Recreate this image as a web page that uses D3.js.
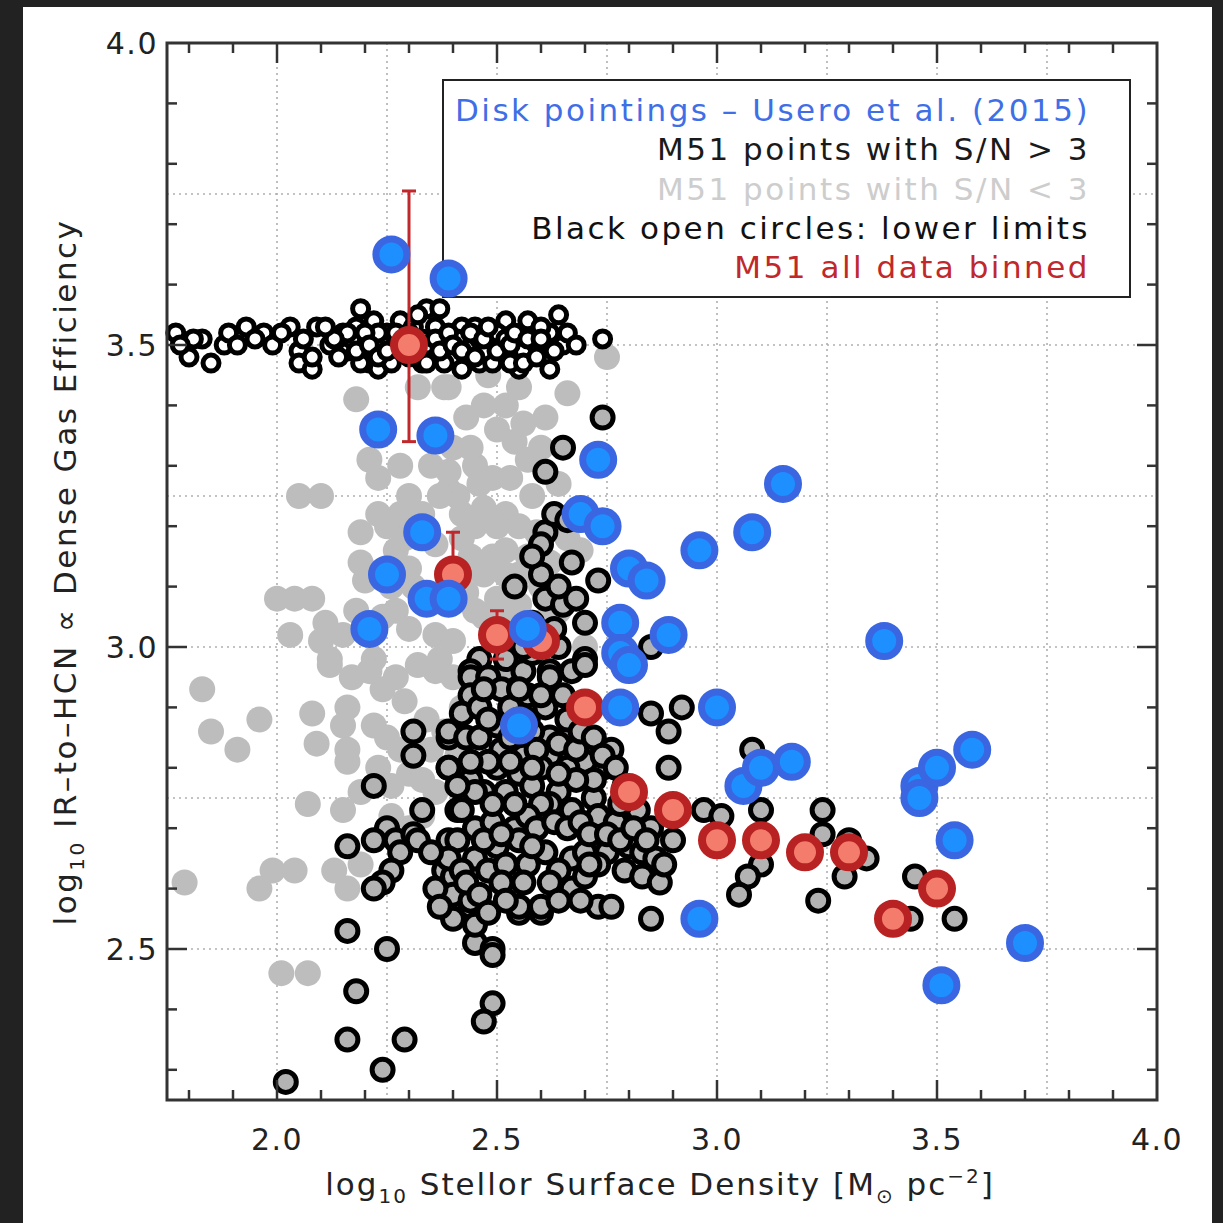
<!DOCTYPE html>
<html>
<head>
<meta charset="utf-8">
<script src="https://cdn.jsdelivr.net/npm/d3@7"></script>
<style>
  html, body { margin: 0; padding: 0; background: #222; }
  svg { display: block; }
</style>
</head>
<body>
<svg id="chart"></svg>
<script>
// log10 stellar surface density vs log10 IR/HCN

// disk pointings (Usero et al. 2015) - blue
const diskPts = [
  [2.26,3.65],[2.39,3.61],[2.23,3.36],[2.36,3.35],[2.73,3.31],[3.15,3.27],[2.69,3.22],[2.74,3.20],
  [2.33,3.19],[3.08,3.19],[2.96,3.16],[2.25,3.12],[2.80,3.13],[2.84,3.11],[2.34,3.08],[2.39,3.08],
  [2.21,3.03],[2.57,3.03],[2.78,3.04],[2.89,3.02],[3.38,3.01],[2.78,2.99],[2.80,2.97],[2.78,2.90],
  [3.00,2.90],[2.55,2.87],[3.06,2.77],[3.10,2.80],[3.17,2.81],[3.46,2.77],[3.46,2.75],[3.50,2.80],
  [3.58,2.83],[3.54,2.68],[2.96,2.55],[3.70,2.51],[3.51,2.44]
];

// binned M51 data - red
const binX = [2.3, 2.4, 2.5, 2.6, 2.7, 2.8, 2.9, 3.0, 3.1, 3.2, 3.3, 3.4, 3.5];
const binY = [3.50, 3.12, 3.02, 3.01, 2.90, 2.76, 2.73, 2.68, 2.68, 2.66, 2.66, 2.55, 2.60];
const binLo = [3.34, 3.06, 2.98, 2.99, 2.89, 2.75, 2.72, 2.67, 2.67, 2.65, 2.65, 2.54, 2.59];
const binHi = [3.755, 3.19, 3.06, 3.03, 2.91, 2.77, 2.74, 2.69, 2.69, 2.67, 2.67, 2.56, 2.61];

// lower limits - black open circles
const limitPts = [
  [1.77,3.52],[1.80,3.48],[1.83,3.51],[1.85,3.47],[1.88,3.50],[1.89,3.52],[1.93,3.53],[1.97,3.52],
  [1.99,3.50],[2.03,3.53],[2.05,3.49],[2.05,3.47],[2.08,3.46],[2.09,3.53],[2.12,3.50],[2.15,3.52],
  [2.16,3.49],[2.19,3.56],[2.20,3.50],[2.21,3.47],[2.23,3.46],[2.25,3.52],[2.34,3.56],[2.37,3.56],
  [2.36,3.53],[2.39,3.50],[2.42,3.53],[2.44,3.50],[2.46,3.47],[2.49,3.51],[2.52,3.54],[2.55,3.46],
  [2.58,3.52],[2.61,3.48],[2.62,3.52],[2.64,3.55],[2.65,3.50],[2.74,3.51],[2.27,3.49],[2.28,3.54],
  [2.22,3.54],[2.14,3.48],[2.08,3.48],[2.49,3.47],[2.45,3.53],[2.40,3.48],[2.33,3.47],[2.18,3.53],
  [2.55,3.50],[2.57,3.54],[2.51,3.49],[2.46,3.51],[2.17,3.51],[2.22,3.49],[2.24,3.50],[2.26,3.47],
  [2.28,3.51],[2.30,3.48],[2.31,3.53],[2.33,3.51],[2.35,3.49],[2.38,3.47],[2.41,3.51],[2.43,3.48],
  [2.47,3.49],[2.50,3.52],[2.53,3.47],[2.56,3.49],[2.59,3.50],[2.19,3.47],[2.23,3.52],[2.32,3.55],
  [2.42,3.46],[2.60,3.53],[2.16,3.52],[2.18,3.49],[2.20,3.52],[2.21,3.50],[2.23,3.48],[2.25,3.49],
  [2.27,3.52],[2.29,3.50],[2.30,3.52],[2.32,3.49],[2.34,3.50],[2.34,3.47],[2.36,3.51],[2.37,3.49],
  [2.39,3.52],[2.40,3.50],[2.42,3.49],[2.44,3.52],[2.45,3.48],[2.47,3.51],[2.48,3.53],[2.50,3.49],
  [2.52,3.51],[2.53,3.50],[2.54,3.52],[2.56,3.47],[2.57,3.51],[2.59,3.48],[2.60,3.51],[2.63,3.49],
  [2.62,3.46],[2.13,3.51],[2.11,3.53],[2.06,3.51],[2.01,3.52],[1.95,3.51],[1.91,3.50],[1.81,3.51],
  [1.78,3.50],[2.66,3.52],[2.68,3.50]
];

// S/N < 3 - grey
const lowSnPts = [
  [2.18,3.41],[2.21,3.31],[2.23,3.28],[2.28,3.30],[2.35,3.30],[2.39,3.26],[2.05,3.25],[2.10,3.25],
  [2.23,3.22],[2.19,3.19],[2.19,3.14],[2.27,3.16],[2.20,3.11],[2.00,3.08],[2.04,3.08],[2.08,3.08],
  [2.11,3.04],[2.03,3.02],[2.10,3.01],[2.12,2.98],[2.22,2.98],[2.27,3.06],[2.36,3.02],[2.37,2.98],
  [2.32,3.43],[2.38,3.43],[2.39,3.29],[2.40,3.33],[1.83,2.93],[1.85,2.86],[1.91,2.83],[1.96,2.88],
  [2.08,2.89],[2.09,2.84],[2.16,2.90],[2.15,2.87],[2.16,2.83],[2.16,2.81],[2.22,2.87],[2.23,2.80],
  [2.24,2.93],[2.29,2.91],[2.34,2.88],[2.30,2.79],[2.36,2.96],[2.12,2.97],[2.21,2.96],[2.07,2.74],
  [2.15,2.73],[1.79,2.61],[1.96,2.60],[1.99,2.63],[2.04,2.63],[2.13,2.63],[2.16,2.60],[2.19,2.64],
  [2.01,2.46],[2.07,2.46],[2.39,3.43],[2.55,3.43],[2.66,3.42],[2.61,3.38],[2.54,3.34],[2.57,3.31],
  [2.49,3.28],[2.45,3.30],[2.41,3.25],[2.52,3.22],[2.58,3.25],[2.64,3.27],[2.45,3.20],[2.52,3.16],
  [2.59,3.19],[2.66,3.18],[2.69,3.16],[2.47,3.12],[2.50,3.08],[2.45,3.06],[2.40,3.01],[2.64,3.06],
  [2.70,3.00],[2.75,3.48],[2.43,3.38],[2.47,3.40],[2.50,3.36],[2.44,3.33],[2.47,3.23],[2.50,3.20],
  [2.42,3.22],[2.36,3.17],[2.30,3.13],[2.44,3.15],[2.55,3.12],[2.60,3.10],[2.62,3.14],[2.33,3.08],
  [2.30,3.03],[2.42,3.12],[2.40,2.95],[2.42,2.90],[2.38,2.86],[2.41,2.82],[2.36,2.76],[2.33,2.72],
  [2.30,2.70],[2.26,2.72],[2.48,3.45],[2.52,3.40],[2.56,3.37],[2.60,3.33],[2.53,3.28],[2.46,3.27],
  [2.42,3.18],[2.49,3.15],[2.55,3.20],[2.57,3.15],[2.52,3.12],[2.47,3.05],[2.43,3.09],[2.55,3.07],
  [2.60,3.04],[2.49,3.02],[2.52,3.05],[2.37,3.25],[2.33,3.22],[2.30,3.25],[2.28,3.22],[2.25,3.20],
  [2.29,3.18],[2.26,3.10],[2.31,3.10],[2.24,3.05],[2.18,3.06],[2.15,3.02],[2.17,2.95],[2.25,2.85],
  [2.27,2.95],[2.32,2.97],[2.19,2.76],[2.26,2.77],[2.28,2.83],[2.35,2.83],[2.33,2.78]
];

// S/N > 3 - black ring
const detPts = [
  [2.74,3.38],[2.65,3.33],[2.61,3.29],[2.61,3.19],[2.60,3.17],[2.67,3.14],[2.73,3.11],[2.54,3.10],
  [2.60,3.12],[2.61,3.08],[2.65,3.07],[2.68,3.08],[2.70,3.04],[2.85,3.00],[2.46,2.98],[2.44,2.96],
  [2.52,2.96],[2.62,2.96],[2.70,2.98],[2.22,2.77],[2.31,2.86],[2.31,2.82],[2.39,2.85],[2.39,2.80],
  [2.33,2.73],[2.41,2.73],[2.25,2.70],[2.22,2.68],[2.16,2.67],[2.27,2.68],[2.28,2.66],[2.31,2.69],
  [2.32,2.68],[2.39,2.68],[2.38,2.63],[2.40,2.62],[2.26,2.63],[2.24,2.61],[2.22,2.60],[2.40,2.55],
  [2.16,2.53],[2.25,2.50],[2.18,2.43],[2.16,2.35],[2.29,2.35],[2.24,2.30],[2.02,2.28],[2.44,2.57],
  [2.45,2.51],[2.49,2.50],[2.49,2.49],[2.49,2.41],[2.47,2.38],[2.55,2.56],[2.60,2.56],[2.44,2.95],
  [2.48,2.95],[2.51,2.93],[2.56,2.96],[2.57,2.92],[2.62,2.95],[2.67,2.96],[2.70,2.97],[2.44,2.92],
  [2.42,2.89],[2.46,2.90],[2.50,2.87],[2.39,2.86],[2.43,2.85],[2.46,2.85],[2.39,2.80],[2.51,2.83],
  [2.56,2.82],[2.62,2.85],[2.61,2.90],[2.67,2.86],[2.62,2.82],[2.71,2.83],[2.76,2.83],[2.74,2.80],
  [2.70,2.81],[2.66,2.80],[2.60,2.80],[2.55,2.79],[2.50,2.80],[2.47,2.76],[2.52,2.76],[2.58,2.77],
  [2.64,2.76],[2.62,2.74],[2.67,2.73],[2.72,2.75],[2.73,2.72],[2.77,2.71],[2.82,2.73],[2.85,2.70],
  [2.89,2.80],[2.92,2.90],[2.85,2.89],[2.89,2.86],[2.97,2.73],[3.01,2.72],[2.42,2.73],[2.41,2.68],
  [2.45,2.70],[2.49,2.71],[2.54,2.70],[2.55,2.68],[2.50,2.67],[2.39,2.65],[2.45,2.65],[2.48,2.63],
  [2.52,2.64],[2.57,2.64],[2.56,2.61],[2.51,2.61],[2.42,2.63],[2.40,2.59],[2.44,2.58],[2.45,2.54],
  [2.55,2.57],[2.60,2.57],[2.67,2.65],[2.67,2.60],[2.70,2.66],[2.75,2.66],[2.80,2.67],[2.83,2.66],
  [2.86,2.65],[2.79,2.63],[2.83,2.62],[2.87,2.61],[2.73,2.57],[2.76,2.57],[2.85,2.55],[3.08,2.83],
  [3.10,2.73],[3.10,2.64],[3.07,2.62],[3.05,2.59],[3.24,2.73],[3.24,2.69],[3.30,2.68],[3.34,2.65],
  [3.29,2.62],[3.23,2.58],[3.45,2.62],[3.44,2.55],[3.54,2.55],[2.47,2.93],[2.53,2.90],[2.55,2.88],
  [2.58,2.86],[2.59,2.83],[2.64,2.84],[2.68,2.83],[2.66,2.88],[2.69,2.86],[2.72,2.85],[2.74,2.82],
  [2.77,2.80],[2.79,2.77],[2.72,2.78],[2.68,2.78],[2.64,2.79],[2.60,2.74],[2.57,2.72],[2.59,2.70],
  [2.63,2.71],[2.66,2.70],[2.69,2.71],[2.71,2.69],[2.75,2.69],[2.78,2.68],[2.73,2.64],[2.70,2.62],
  [2.64,2.63],[2.61,2.66],[2.58,2.67],[2.54,2.74],[2.49,2.74],[2.44,2.78],[2.48,2.81],[2.53,2.85],
  [2.57,2.88],[2.48,2.88],[2.52,2.98],[2.58,2.99],[2.64,3.00],[2.55,2.93],[2.60,2.92],[2.65,2.92],
  [2.78,2.74],[2.81,2.70],[2.84,2.68],[2.88,2.64],[2.90,2.68],[2.62,2.61],[2.64,2.58],[2.69,2.58],
  [2.71,2.64],[2.35,2.66],[2.36,2.60],[2.37,2.57],[2.43,2.61],[2.46,2.59],[2.48,2.56],[2.52,2.58],
  [2.47,2.68],[2.51,2.69],[2.45,2.76],[2.41,2.77],[2.44,2.81],[2.53,2.81],[2.58,2.80],[2.63,3.03],
  [2.58,3.04],[2.56,3.00],[2.64,3.10],[2.58,3.15],[2.63,3.22],[2.66,3.21]
];

const legendLines = [
  { text: "Disk pointings \u2013 Usero et al. (2015)", color: "#3f6fe6" },
  { text: "M51 points with S/N > 3", color: "#1a1a1a" },
  { text: "M51 points with S/N < 3", color: "#cdcdcd" },
  { text: "Black open circles: lower limits", color: "#111111" },
  { text: "M51 all data binned", color: "#c0282c" }
];

const xTicks = [2.0, 2.5, 3.0, 3.5, 4.0];
const yTicks = [2.5, 3.0, 3.5, 4.0];

const width = 1223, height = 1223;
const svg = d3.select("#chart").attr("width", width).attr("height", height);

// dark frame + white page
svg.append("rect").attr("width", width).attr("height", height).attr("fill", "#222");
svg.append("rect").attr("x", 23).attr("y", 7).attr("width", 1189).attr("height", 1216).attr("fill", "#fff");

const pl = 167, pr = 1157, pt = 43, pb = 1100;
const x = d3.scaleLinear().domain([1.75, 4.0]).range([pl, pr]);
const y = d3.scaleLinear().domain([2.25, 4.0]).range([pb, pt]);

const font = "DejaVu Sans, sans-serif";

// dotted grid
const gridX = d3.range(2.0, 3.76, 0.25);
const gridY = d3.range(2.5, 3.76, 0.25);
const grid = svg.append("g").attr("stroke", "#b0b0b0").attr("stroke-width", 1.6).attr("stroke-dasharray", "2,4");
grid.selectAll(".gx").data(gridX).enter().append("line")
  .attr("x1", d => x(d)).attr("x2", d => x(d)).attr("y1", pt).attr("y2", pb);
grid.selectAll(".gy").data(gridY).enter().append("line")
  .attr("y1", d => y(d)).attr("y2", d => y(d)).attr("x1", pl).attr("x2", pr);

// legend box (sits under the points)
svg.append("rect").attr("x", 443).attr("y", 80).attr("width", 687).attr("height", 217)
  .attr("fill", "#fff").attr("stroke", "#222").attr("stroke-width", 2);
svg.append("g").selectAll("text").data(legendLines).enter().append("text")
  .attr("x", 1090).attr("y", (d, i) => 121 + i * 39.3)
  .attr("text-anchor", "end")
  .style("font-family", font).style("font-size", "31px").style("letter-spacing", "2.5px")
  .attr("fill", d => d.color)
  .text(d => d.text);

// points
svg.append("g").selectAll("circle").data(lowSnPts).enter().append("circle")
  .attr("cx", d => x(d[0])).attr("cy", d => y(d[1])).attr("r", 13).attr("fill", "#bdbdbd");

svg.append("g").selectAll("circle").data(limitPts).enter().append("circle")
  .attr("cx", d => x(d[0])).attr("cy", d => y(d[1])).attr("r", 8)
  .attr("fill", "#fff").attr("stroke", "#000").attr("stroke-width", 5);

svg.append("g").selectAll("circle").data(detPts).enter().append("circle")
  .attr("cx", d => x(d[0])).attr("cy", d => y(d[1])).attr("r", 10.5)
  .attr("fill", "#b3b3b3").attr("stroke", "#000").attr("stroke-width", 5);

// binned points with error bars
const bins = binX.map((v, i) => ({ x: v, y: binY[i], lo: binLo[i], hi: binHi[i] }));
const eb = svg.append("g").attr("stroke", "#c0282c").attr("stroke-width", 3);
eb.selectAll(".v").data(bins).enter().append("line")
  .attr("x1", d => x(d.x)).attr("x2", d => x(d.x)).attr("y1", d => y(d.lo)).attr("y2", d => y(d.hi));
eb.selectAll(".ch").data(bins).enter().append("line")
  .attr("x1", d => x(d.x) - 7).attr("x2", d => x(d.x) + 7).attr("y1", d => y(d.hi)).attr("y2", d => y(d.hi));
eb.selectAll(".cl").data(bins).enter().append("line")
  .attr("x1", d => x(d.x) - 7).attr("x2", d => x(d.x) + 7).attr("y1", d => y(d.lo)).attr("y2", d => y(d.lo));
svg.append("g").selectAll("circle").data(bins).enter().append("circle")
  .attr("cx", d => x(d.x)).attr("cy", d => y(d.y)).attr("r", 15)
  .attr("fill", "#f47c6c").attr("stroke", "#b82222").attr("stroke-width", 8);

svg.append("g").selectAll("circle").data(diskPts).enter().append("circle")
  .attr("cx", d => x(d[0])).attr("cy", d => y(d[1])).attr("r", 15.5)
  .attr("fill", "#1e8fff").attr("stroke", "#3a66e2").attr("stroke-width", 7);

// frame with inward ticks on all sides
const frame = svg.append("g").attr("stroke", "#333").attr("stroke-width", 2.5);
frame.append("rect").attr("x", pl).attr("y", pt).attr("width", pr - pl).attr("height", pb - pt)
  .attr("fill", "none").attr("stroke-width", 3);
const xMinor = d3.range(1.8, 3.999, 0.1);
const yMinor = d3.range(2.3, 3.999, 0.1);
const isMajor = v => Math.abs(v * 2 - Math.round(v * 2)) < 1e-6;
frame.selectAll(".xt").data(xMinor).enter().append("line")
  .attr("x1", d => x(d)).attr("x2", d => x(d))
  .attr("y1", pb).attr("y2", d => pb - (isMajor(d) ? 20 : 10));
frame.selectAll(".xtt").data(xMinor).enter().append("line")
  .attr("x1", d => x(d)).attr("x2", d => x(d))
  .attr("y1", pt).attr("y2", d => pt + (isMajor(d) ? 20 : 10));
frame.selectAll(".yt").data(yMinor).enter().append("line")
  .attr("y1", d => y(d)).attr("y2", d => y(d))
  .attr("x1", pl).attr("x2", d => pl + (isMajor(d) ? 20 : 10));
frame.selectAll(".ytr").data(yMinor).enter().append("line")
  .attr("y1", d => y(d)).attr("y2", d => y(d))
  .attr("x1", pr).attr("x2", d => pr - (isMajor(d) ? 20 : 10));

// tick labels
svg.append("g").selectAll("text").data(xTicks).enter().append("text")
  .attr("x", d => x(d)).attr("y", 1150)
  .attr("text-anchor", "middle")
  .style("font-family", font).style("font-size", "30px").style("letter-spacing", "1.5px")
  .attr("fill", "#222").text(d => d.toFixed(1));
svg.append("g").selectAll("text").data(yTicks).enter().append("text")
  .attr("x", 158).attr("y", d => y(d) + 11)
  .attr("text-anchor", "end")
  .style("font-family", font).style("font-size", "30px").style("letter-spacing", "1.5px")
  .attr("fill", "#222").text(d => d.toFixed(1));

// axis titles
const xt = svg.append("text").attr("x", 660).attr("y", 1195).attr("text-anchor", "middle")
  .style("font-family", font).style("font-size", "31px").style("letter-spacing", "2px").attr("fill", "#222");
xt.append("tspan").text("log");
xt.append("tspan").attr("dy", 8).style("font-size", "20px").text("10");
xt.append("tspan").attr("dy", -8).text(" Stellor Surface Density [M");
xt.append("tspan").attr("dy", 8).style("font-size", "20px").text("\u2299");
xt.append("tspan").attr("dy", -8).text(" pc");
xt.append("tspan").attr("dy", -12).style("font-size", "20px").text("\u22122");
xt.append("tspan").attr("dy", 12).text("]");

const yt = svg.append("text").attr("transform", "translate(76,572) rotate(-90)").attr("text-anchor", "middle")
  .style("font-family", font).style("font-size", "31px").style("letter-spacing", "2.5px").attr("fill", "#222");
yt.append("tspan").text("log");
yt.append("tspan").attr("dy", 8).style("font-size", "20px").text("10");
yt.append("tspan").attr("dy", -8).text(" IR\u2013to\u2013HCN \u221D Dense Gas Efficiency");
</script>
</body>
</html>
